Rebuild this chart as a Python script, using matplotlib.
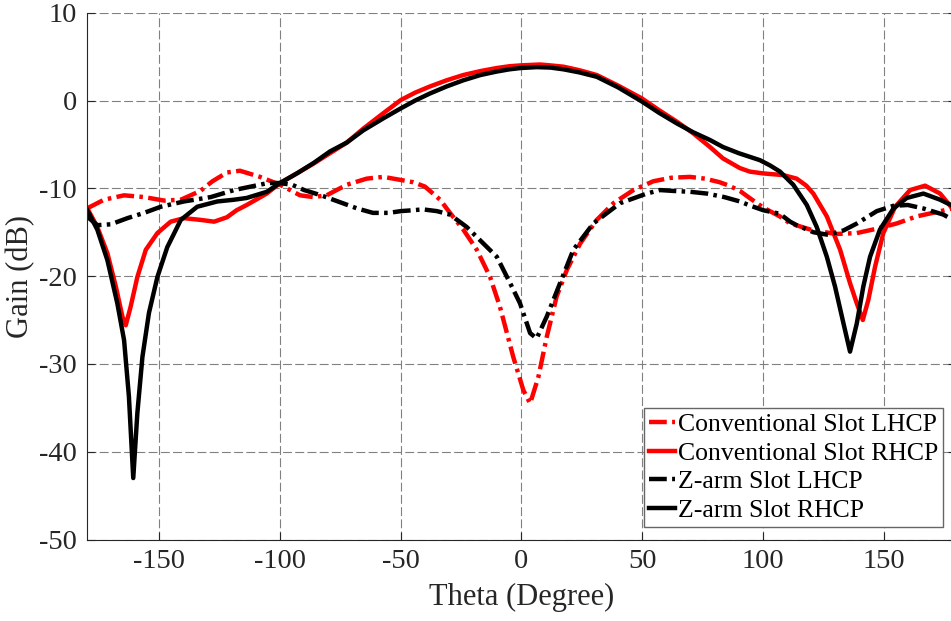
import matplotlib
matplotlib.use("Agg")
import matplotlib.pyplot as plt

plt.rcParams['font.family'] = ['Liberation Serif', 'DejaVu Serif']
plt.rcParams['axes.unicode_minus'] = False

# Conventional Slot LHCP
conv_lhcp_theta = [-180, -172.9, -164.6, -156.3, -148, -141.1, -133, -128, -122, -116.6, -108.3, -100,
                   -91.7, -86.2, -80.7, -72.4, -64.1, -57.2, -50, -45, -40, -33.7, -29.6, -24.1, -18.5,
                   -13, -8.9, -3.4, 0.8, 3.6, 7, 10.5, 14.6, 18.8, 24.3, 31.2, 38.1, 46.4, 54.6, 62,
                   69.8, 76, 82, 86, 90.5, 95, 100.2, 107, 111.3, 120.9, 130.5, 138.9, 147.2, 155.5,
                   163.7, 172, 180]
conv_lhcp_gain = [-12.3, -11.3, -10.8, -11.0, -11.4, -11.3, -10.3, -9.2, -8.2, -8.0, -8.7, -9.6,
                  -10.8, -11.0, -10.8, -9.6, -8.9, -8.7, -9.05, -9.3, -9.8, -11.3, -12.8, -14.7, -17.0,
                  -20.1, -23.5, -29.2, -33.0, -34.5, -31.5, -26.9, -22.3, -19.3, -16.3, -13.6, -11.7, -10.2, -9.2, -8.8,
                  -8.7, -8.9, -9.3, -9.7, -10.3, -11.2, -12.2, -13.2, -14.0, -14.8, -15.2, -15.1, -14.6, -14.0,
                  -13.2, -12.7, -12.2]

# Conventional Slot RHCP
conv_rhcp_theta = [-180, -175.7, -171.5, -168, -165.3, -163.9, -161.9, -159.1, -155.6, -150.8, -145.3,
                   -139.8, -132.9, -127.3, -122, -118, -113.8, -105.5, -100, -93, -86.2, -79.3, -72.4,
                   -65.5, -57, -50, -44, -37.9, -31, -24.1, -17, -10.2, -5, -0.3, 7.7, 12, 17.4, 24,
                   31.2, 40, 49.8, 57, 64.3, 71, 78.1, 83.5, 90.5, 94.6, 100, 108.5, 114, 118, 120.9,
                   126.5, 132, 136.1, 138.9, 141.4, 143.7, 146.5, 149.9, 154.8, 161, 167.2, 173.4,
                   177.9, 180]
conv_rhcp_gain = [-12.2, -14.4, -17.4, -21.2, -24.6, -25.6, -23.5, -20.1, -17.0, -15.1, -13.8,
                  -13.4, -13.6, -13.8, -13.3, -12.5, -11.9, -10.6, -9.4, -8.3, -7.2, -6.0, -4.8,
                  -3.2, -1.4, 0.05, 0.9, 1.6, 2.3, 2.9, 3.35, 3.7, 3.9, 4.0, 4.1, 4.0, 3.85, 3.45,
                  2.9, 1.7, 0.25, -1.1, -2.4, -3.7, -5.3, -6.6, -7.7, -8.1, -8.3, -8.5, -8.9, -9.7, -10.6,
                  -13.2, -17.0, -20.8, -23.1, -25.0, -22.7, -18.9, -15.1, -12.1, -10.2, -9.7, -10.6,
                  -12.1, -12.6]

# Z-arm Slot LHCP
z_lhcp_theta = [-180, -175.7, -170.1, -163.2, -156.3, -149.4, -139.8, -128.7, -119, -112, -105, -100,
                -95, -90, -83, -75, -68, -61.5, -55, -50, -45, -40.8, -35, -29.6, -22.7, -17.2,
                -10.2, -4.7, -0.6, 3.6, 6.3, 10.5, 16, 21.5, 29.8, 40.8, 51.9, 57.4, 62.9, 70, 76.8,
                84, 90.5, 95, 100.2, 107, 111.3, 114, 120.9, 127, 133.4, 139, 147.2, 154, 160,
                166.5, 174.8, 180]
z_lhcp_gain = [-13.2, -14.2, -14.1, -13.4, -12.8, -12.1, -11.5, -11.0, -10.2, -9.8, -9.4, -9.4,
               -9.6, -10.2, -10.8, -11.6, -12.3, -12.8, -12.8, -12.6, -12.5, -12.4, -12.6, -13.0, -14.4, -15.9,
               -17.8, -20.8, -23.1, -26.5, -27.1, -24.6, -20.8, -17.0, -14.0, -11.7, -10.6, -10.2, -10.3, -10.4, -10.6,
               -11.0, -11.5, -12.0, -12.5, -12.9, -13.8, -14.2, -15.0, -15.3, -14.8, -14.0, -12.6, -12.0, -11.9,
               -12.3, -13.0, -13.8]

# Z-arm Slot RHCP
z_rhcp_theta = [-180, -175.7, -171.5, -167.4, -164.6, -162.6, -160.8, -159.1, -157, -154.3, -150.8,
                -146.7, -141.1, -134.3, -126, -119, -113.8, -105.5, -100, -93, -86, -79.3, -72.4,
                -65.5, -57, -50, -44, -37.9, -31, -24.1, -17, -10.2, -5, -0.3, 6.3, 12, 17.4, 24,
                31.2, 40, 49.8, 57, 64.3, 71, 78.1, 83.5, 90, 98.8, 103, 107.1, 112.6, 118.2, 122.3,
                126.5, 129.9, 133.4, 136.1, 138.9, 141.6, 144.4, 148.5, 154.1, 159.6, 166.5, 173.4,
                177.9, 180]
z_rhcp_gain = [-12.4, -14.7, -18.2, -23.1, -27.3, -33.7, -43.0, -35.6, -29.2, -24.2, -20.1,
               -16.7, -13.6, -12.1, -11.5, -11.3, -11.1, -10.4, -9.4, -8.3, -7.1, -5.8, -4.8,
               -3.4, -2.0, -0.9, 0.0, 0.8, 1.6, 2.3, 2.9, 3.3, 3.55, 3.7, 3.8, 3.75, 3.55, 3.2,
               2.7, 1.5, -0.1, -1.4, -2.6, -3.6, -4.5, -5.3, -6.0, -6.8, -7.4, -8.1, -9.6, -11.9, -14.4,
               -17.8, -21.2, -25.4, -28.6, -25.4, -21.2, -17.8, -14.7, -12.3, -11.1, -10.6, -11.3,
               -11.9, -12.3]

labels = ["Conventional Slot LHCP", "Conventional Slot RHCP",
          "Z-arm Slot LHCP", "Z-arm Slot RHCP"]
xticks = [-150, -100, -50, 0, 50, 100, 150]
yticks = [-50, -40, -30, -20, -10, 0, 10]

W, H = 951, 621
fig = plt.figure(figsize=(W / 100, H / 100), dpi=100)
left, right, top, bottom = 86.9, 956.0, 12.7, 539.5
ax = fig.add_axes([left / W, (H - bottom) / H, (right - left) / W, (bottom - top) / H])

dd = (0, (4.0, 1.2, 0.8, 1.2))
lw = 3.2
ax.plot(conv_lhcp_theta, conv_lhcp_gain, color='#ff0000', lw=lw, ls=dd, label=labels[0])
ax.plot(conv_rhcp_theta, conv_rhcp_gain, color='#ff0000', lw=lw, ls='-', label=labels[1],
        solid_joinstyle='round')
ax.plot(z_lhcp_theta, z_lhcp_gain, color='black', lw=lw, ls=dd, label=labels[2])
ax.plot(z_rhcp_theta, z_rhcp_gain, color='black', lw=lw, ls='-', label=labels[3],
        solid_joinstyle='round')

ax.set_xlim(-180, 180)
ax.set_ylim(-50, 10)
ax.set_xticks(xticks)
ax.set_yticks(yticks)
ax.grid(True, color='#808080', lw=0.8, ls=(0, (8, 3)))
ax.set_axisbelow(True)

ax.spines['top'].set_visible(False)
for s in ['left', 'bottom', 'right']:
    ax.spines[s].set_color('#262626')
    ax.spines[s].set_linewidth(0.8)
ax.tick_params(direction='in', length=6, width=0.8, colors='#262626', labelsize=20.5,
               right=True, top=False, pad=7)
for t in ax.get_xticklabels() + ax.get_yticklabels():
    t.set_color('#262626')

ax.set_xlabel("Theta (Degree)", fontsize=22, color='#262626', labelpad=6)
ax.set_ylabel("Gain (dB)", fontsize=22, color='#262626', labelpad=3)

leg = ax.legend(loc='lower right', bbox_to_anchor=(943 / W, (H - 527) / H),
                bbox_transform=fig.transFigure, borderaxespad=0, fontsize=18.5,
                handlelength=1.0, handletextpad=0.1, labelspacing=0.22,
                borderpad=0.2, fancybox=False, framealpha=1, edgecolor='#666666')
leg.get_frame().set_linewidth(1.0)

fig.savefig("out.png", dpi=100)
